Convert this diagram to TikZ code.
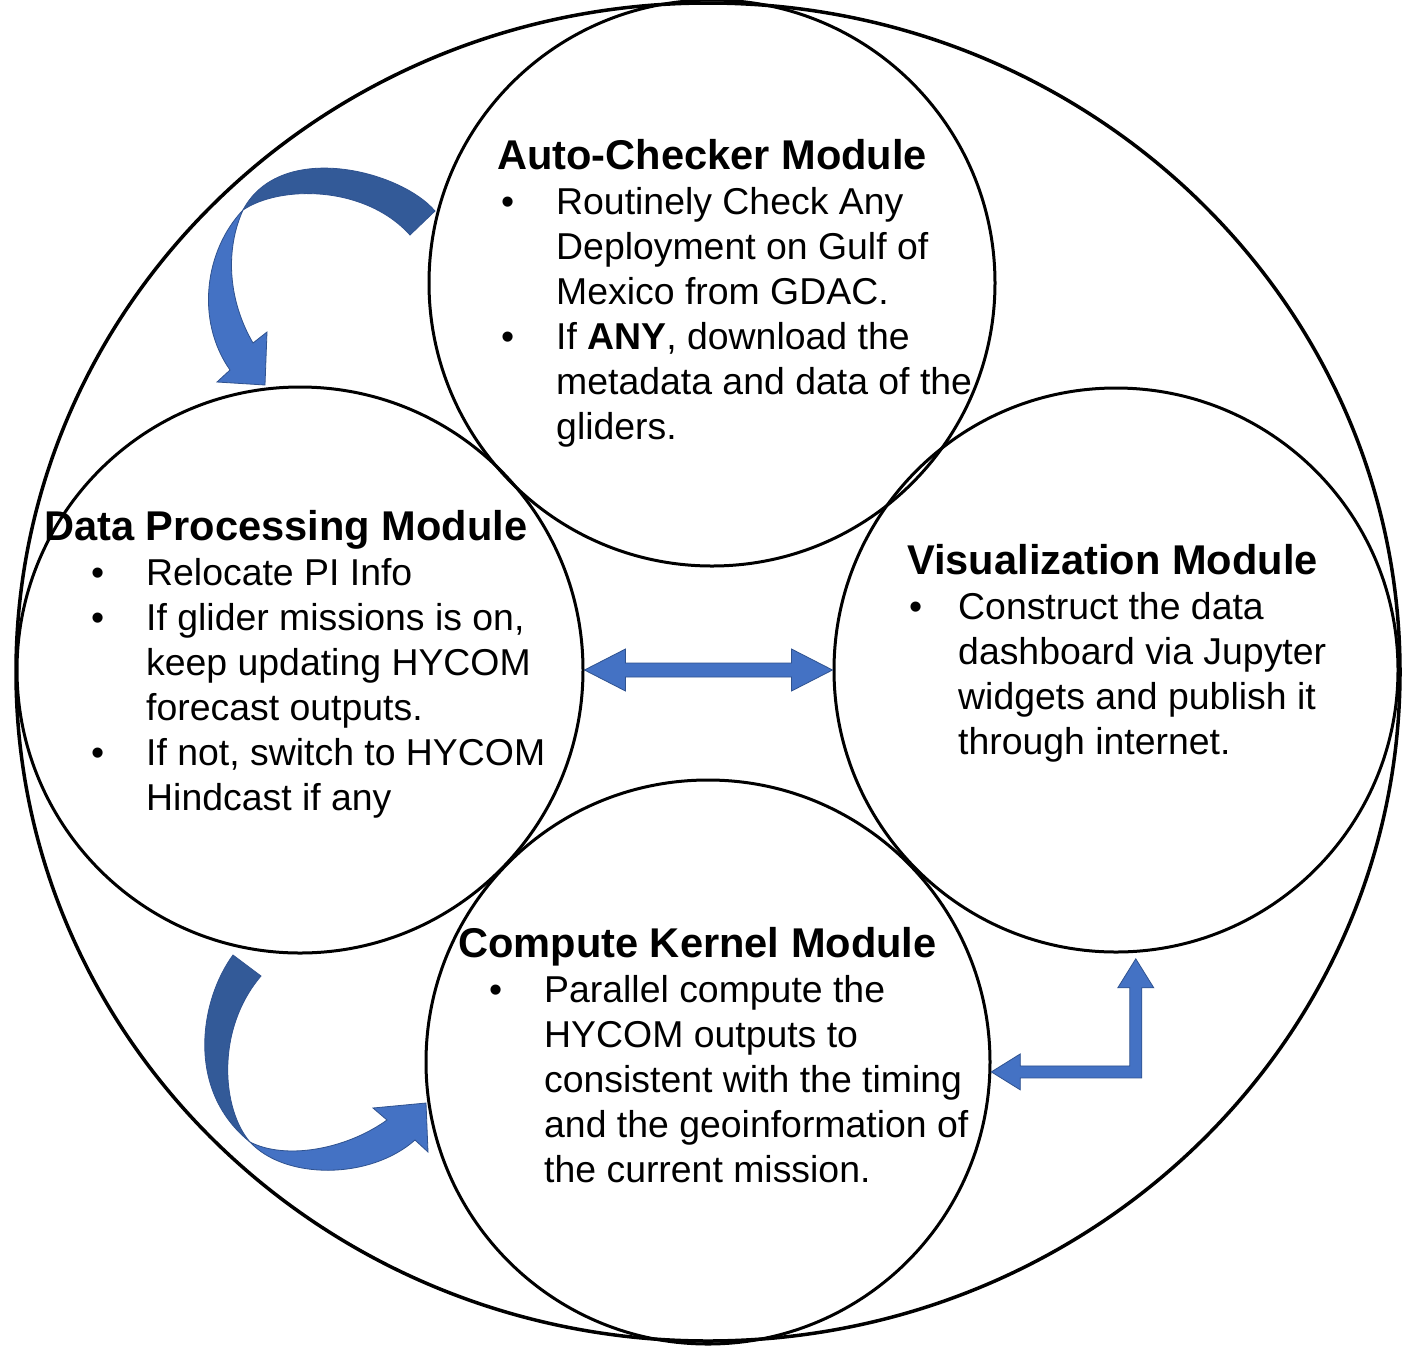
\documentclass[tikz,border=0pt]{standalone}
\usepackage{fontspec}
\setmainfont{Liberation Sans}
\usetikzlibrary{shapes.geometric,calc}
\definecolor{lblue}{HTML}{4472C4}
\definecolor{dblue}{HTML}{335A98}
\definecolor{eblue}{HTML}{2F528F}
\newcommand{\tfont}{\fontsize{41.6}{45}\selectfont\bfseries}
\newcommand{\bfont}{\fontsize{37.4}{45}\selectfont}
\newcommand{\modbullet}[2]{\makebox[#1][l]{\hspace*{#2}•}}
\begin{document}
\begin{tikzpicture}[x=1pt,y=-1pt,
  modcircle/.style={circle,draw,line width=3pt,inner sep=0pt,minimum size=566pt},
  outerring/.style={ellipse,draw,line width=3.5pt,inner sep=0pt,minimum width=1384pt,minimum height=1338pt},
  txt/.style={anchor=base west,inner sep=0pt,font=\bfont},
  lightarrow/.style={fill=lblue,draw=eblue,line width=0.8pt,line join=miter},
  darkarrow/.style={fill=dblue,draw=eblue,line width=0.8pt,line join=miter}]
\fill[white] (0,0) rectangle (1414,1345);
\useasboundingbox (0,0) rectangle (1414,1345);

% outer ring and module circles
\node[outerring] (outer) at (708,672) {};
\node[modcircle] (ac) at (712,283) {};
\node[modcircle] (dp) at (300,670) {};
\node[modcircle,minimum size=564pt] (vis) at (1116,670) {};
\node[modcircle,minimum size=564pt] (ck) at (708,1062) {};

% texts
\node[txt] (actext) at (497,169) {\begin{tabular}[t]{@{}l@{}}
{\tfont Auto-Checker Module}\\
\modbullet{59pt}{4pt}Routinely Check Any\\
\hspace*{59pt}Deployment on Gulf of\\
\hspace*{59pt}Mexico from GDAC.\\
\modbullet{59pt}{4pt}If \textbf{ANY}, download the\\
\hspace*{59pt}metadata and data of the\\
\hspace*{59pt}gliders.
\end{tabular}};

\node[txt] (dptext) at (44,540) {\begin{tabular}[t]{@{}l@{}}
{\tfont Data Processing Module}\\
\modbullet{102pt}{47pt}Relocate PI Info\\
\modbullet{102pt}{47pt}If glider missions is on,\\
\hspace*{102pt}keep updating HYCOM\\
\hspace*{102pt}forecast outputs.\\
\modbullet{102pt}{47pt}If not, switch to HYCOM\\
\hspace*{102pt}Hindcast if any
\end{tabular}};

\node[txt] (vistext) at (907,574) {\begin{tabular}[t]{@{}l@{}}
{\tfont Visualization Module}\\
\modbullet{51pt}{2pt}Construct the data\\
\hspace*{51pt}dashboard via Jupyter\\
\hspace*{51pt}widgets and publish it\\
\hspace*{51pt}through internet.
\end{tabular}};

\node[txt] (cktext) at (458,957) {\begin{tabular}[t]{@{}l@{}}
{\tfont Compute Kernel Module}\\
\modbullet{86pt}{31pt}Parallel compute the\\
\hspace*{86pt}HYCOM outputs to\\
\hspace*{86pt}consistent with the timing\\
\hspace*{86pt}and the geoinformation of\\
\hspace*{86pt}the current mission.
\end{tabular}};

% curved arrow: Auto-Checker -> Data Processing
\coordinate (j1) at (243,210);
\path[lightarrow] (j1) .. controls (205,250) and (195,320) .. (230,370)
  -- (217,382) -- (265,385) -- (267,332) -- (253,343)
  .. controls (228,300) and (225,250) .. (j1) -- cycle;
\path[darkarrow] (435,211) .. controls (400,170) and (280,140) .. (j1)
  .. controls (280,185) and (365,185) .. (410,235) -- cycle;

% curved arrow: Data Processing -> Compute Kernel
\coordinate (j2) at (250,1142);
\path[lightarrow] (j2) .. controls (285,1180) and (370,1180) .. (415,1140)
  -- (428,1152) -- (426,1103) -- (373,1108) -- (387,1120)
  .. controls (345,1150) and (285,1160) .. (j2) -- cycle;
\path[darkarrow] (233,955) .. controls (200,1000) and (185,1090) .. (j2)
  .. controls (222,1110) and (215,1030) .. (261,976) -- cycle;

% double arrow: Data Processing <-> Visualization
\coordinate (dL) at (dp.east);
\coordinate (dR) at (vis.west);
\path[lightarrow] (dL) -- ($(dL)+(41,-21)$) -- ($(dL)+(41,-7)$) -- ($(dR)+(-41,-7)$)
  -- ($(dR)+(-41,-21)$) -- (dR) -- ($(dR)+(-41,21)$) -- ($(dR)+(-41,7)$)
  -- ($(dL)+(41,7)$) -- ($(dL)+(41,21)$) -- cycle;

% bent double arrow: Compute Kernel <-> Visualization
\coordinate (bA) at (ck.-2.5);
\coordinate (bB) at ($(vis.-86.7)+(0,6)$);
\coordinate (bC) at (bA -| bB);
\path[lightarrow] (bA) -- ($(bA)+(29,-18)$) -- ($(bA)+(29,-6)$) -- ($(bC)+(-6,-6)$)
  -- ($(bB)+(-6,29)$) -- ($(bB)+(-18,29)$) -- (bB) -- ($(bB)+(18,29)$)
  -- ($(bB)+(6,29)$) -- ($(bC)+(6,6)$) -- ($(bA)+(29,6)$) -- ($(bA)+(29,18)$) -- cycle;
\end{tikzpicture}
\end{document}
